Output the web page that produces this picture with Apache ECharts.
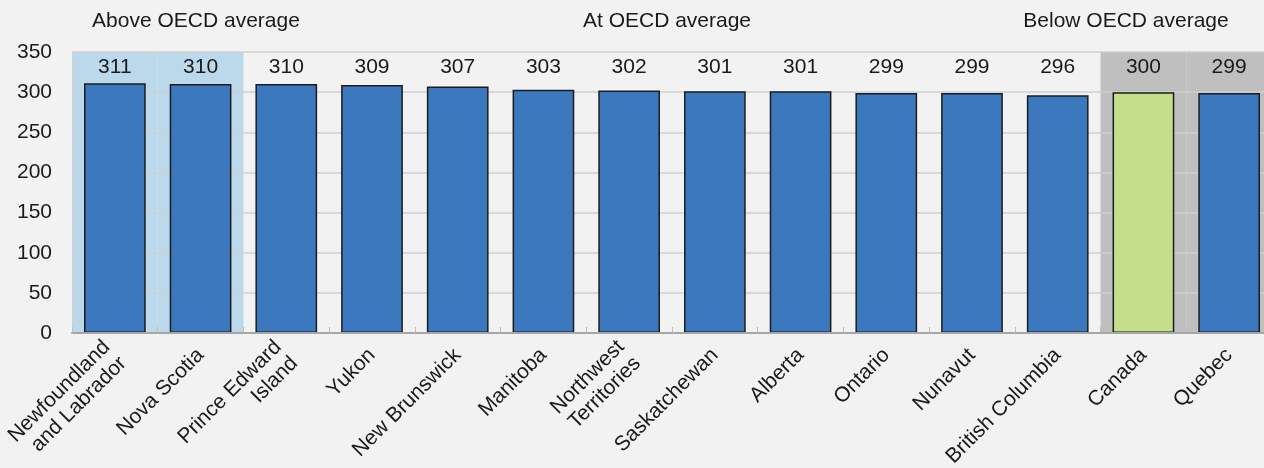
<!DOCTYPE html>
<html>
<head>
<meta charset="utf-8">
<script src="https://cdn.jsdelivr.net/npm/echarts@6/dist/echarts.min.js"></script>
<style>
  html, body { margin: 0; padding: 0; background: #f2f2f2; }
  #chart { width: 1264px; height: 468px; }
</style>
</head>
<body>
<div id="chart"></div>
<script>
// Provinces and territories, ordered by mean score
const categories = [
  'Newfoundland\nand Labrador', 'Nova Scotia', 'Prince Edward\nIsland', 'Yukon',
  'New Brunswick', 'Manitoba', 'Northwest\nTerritories', 'Saskatchewan',
  'Alberta', 'Ontario', 'Nunavut', 'British Columbia', 'Canada', 'Quebec'
];
const scores = [311, 310, 310, 309, 307, 303, 302, 301, 301, 299, 299, 296, 300, 299];
// Group each column belongs to: 'above', 'at' or 'below' the OECD average
const groups = ['above', 'above', 'at', 'at', 'at', 'at', 'at', 'at', 'at', 'at', 'at', 'at', 'below', 'below'];
const groupTitles = ['Above OECD average', 'At OECD average', 'Below OECD average'];
const yTicks = [0, 50, 100, 150, 200, 250, 300, 350];

const FONT = '"Liberation Sans Narrow", "Arial Narrow", "Liberation Sans", Arial, sans-serif';
const FS = 21;
const TEXT = '#1a1a1a';
const BAR_BLUE = '#3b78bd';
const CANADA_GREEN = '#c4de8a';
const bandColors = { above: '#bcd9ec', at: 'rgba(0,0,0,0)', below: '#bfbfbf' };

const yMax = yTicks[yTicks.length - 1];

const chart = echarts.init(document.getElementById('chart'));

// Group headings across the top
const headingX = [196, 667, 1126];
const headings = groupTitles.map((t, i) => ({
  type: 'text',
  x: headingX[i],
  y: 11,
  style: { text: t, font: FS + 'px ' + FONT, fill: TEXT, align: 'center', textAlign: 'center' }
}));

chart.setOption({
  backgroundColor: '#f2f2f2',
  animation: false,
  grid: { left: 72, right: -8, top: 52, bottom: 135, containLabel: false, outerBoundsMode: 'none' },
  graphic: headings,
  xAxis: [
    {
      type: 'category',
      data: categories,
      z: 3,
      axisLine: { show: true, lineStyle: { color: '#a6a6a6', width: 2 } },
      axisTick: { show: true, inside: true, length: 6, lineStyle: { color: '#bdbdbd' } },
      axisLabel: {
        interval: 0,
        rotate: 45,
        margin: 19,
        fontFamily: FONT,
        fontSize: FS,
        lineHeight: 23,
        color: TEXT
      }
    },
    {
      type: 'category',
      data: categories,
      show: false
    }
  ],
  yAxis: {
    type: 'value',
    min: 0,
    max: yMax,
    interval: 50,
    z: 1,
    axisLine: { show: true, lineStyle: { color: '#d0d0d0' } },
    axisTick: { show: false },
    axisLabel: { fontFamily: FONT, fontSize: FS, color: TEXT, margin: 20 },
    splitLine: { show: true, lineStyle: { color: '#cfcfcf', width: 1.5 } }
  },
  series: [
    {
      // Group shading behind the columns, carrying the score labels along the top
      type: 'bar',
      xAxisIndex: 1,
      barWidth: '100%',
      z: 0,
      silent: true,
      data: groups.map(g => ({ value: yMax, itemStyle: { color: bandColors[g] } })),
      label: {
        show: true,
        position: 'insideTop',
        distance: 5,
        fontFamily: FONT,
        fontSize: FS,
        color: TEXT,
        formatter: p => String(scores[p.dataIndex])
      }
    },
    {
      type: 'bar',
      xAxisIndex: 0,
      barWidth: '72%',
      z: 2,
      data: scores.map((v, i) => ({
        value: v,
        itemStyle: { color: categories[i] === 'Canada' ? CANADA_GREEN : BAR_BLUE }
      })),
      itemStyle: { borderColor: '#1c1c1c', borderWidth: 1.5 }
    }
  ]
});
</script>
</body>
</html>
